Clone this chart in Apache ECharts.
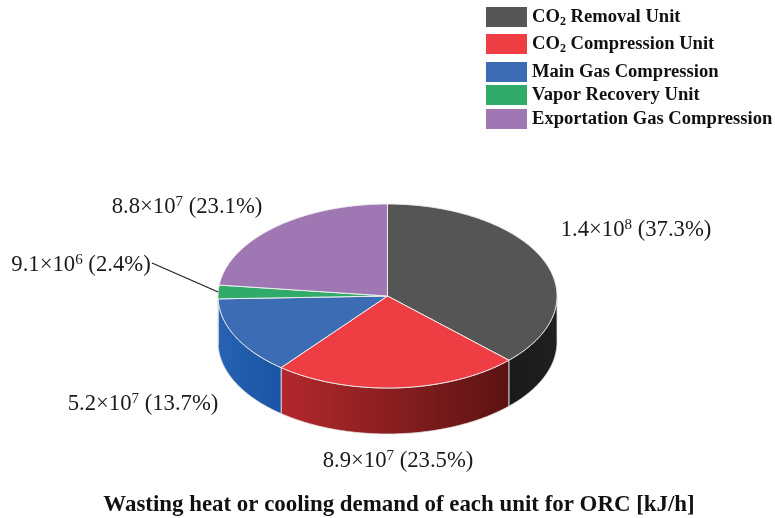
<!DOCTYPE html>
<html>
<head>
<meta charset="utf-8">
<style>html,body{margin:0;padding:0;background:#fff}#chart{width:775px;height:518px}</style>
<script src="https://cdn.jsdelivr.net/npm/echarts@6/dist/echarts.min.js"></script>
</head>
<body>
<div id="chart"></div>
<script>
// Waste heat / cooling demand per unit
const units = ['CO2 Removal Unit', 'CO2 Compression Unit', 'Main Gas Compression', 'Vapor Recovery Unit', 'Exportation Gas Compression'];
const sharePercent = [37.3, 23.5, 13.7, 2.4, 23.1];
const mantissas = ['1.4', '8.9', '5.2', '9.1', '8.8'];
const exponents = ['8', '7', '7', '6', '7'];
const topColors = ['#555555', '#ee3e43', '#3c6cb4', '#30ab6a', '#9e77b3'];
const wallColors = [
  ['#1a1a1a', '#1f1f1f'],
  ['#b3282c', '#5c1313'],
  ['#2763b2', '#1a54a4'],
  ['#1c7a48', '#1c7a48'],
  ['#6f5280', '#6f5280']
];
const legendTops = [7, 34, 62, 85, 109];
const labelCenters = [[636, 230], [398, 461], [143, 404], [81, 265], [187, 207]];
const leaderSlice = 3;

// Pie geometry: an ellipse seen from above, with a cylindrical wall below it
const pie = { cx: 387.5, cy: 296, rx: 169.5, ry: 92, depth: 46 };
const FONT = '"Liberation Serif", "Times New Roman", serif';

function rimPoint(deg, dy) {
  const a = deg * Math.PI / 180;
  return [pie.cx + pie.rx * Math.sin(a), pie.cy - pie.ry * Math.cos(a) + (dy || 0)];
}

function arc(from, to, dy) {
  const pts = [];
  const n = Math.max(2, Math.ceil(Math.abs(to - from) * 2));
  for (let i = 0; i <= n; i++) pts.push(rimPoint(from + (to - from) * i / n, dy));
  return pts;
}

function sliceStart(index) {
  let sum = 0;
  for (let i = 0; i < index; i++) sum += sharePercent[i];
  return sum * 3.6;
}

function renderSlice(index) {
  return function (params, api) {
    const start = sliceStart(index);
    const end = start + api.value(0) * 3.6;
    const children = [];

    // Only the front half of the rim (90°..270°) shows a wall
    const wallFrom = Math.max(start, 90);
    const wallTo = Math.min(end, 270);
    if (wallTo > wallFrom) {
      const upper = arc(wallFrom, wallTo, 0);
      const lower = arc(wallTo, wallFrom, pie.depth);
      children.push({
        type: 'polygon',
        shape: { points: upper.concat(lower) },
        style: {
          fill: {
            type: 'linear', x: 0, y: 0, x2: 1, y2: 0,
            colorStops: [
              { offset: 0, color: wallColors[index][0] },
              { offset: 1, color: wallColors[index][1] }
            ]
          },
          stroke: '#e4e4e4',
          lineWidth: 0.8
        }
      });
    }

    // Top face of the slice
    children.push({
      type: 'polygon',
      shape: { points: [[pie.cx, pie.cy]].concat(arc(start, end, 0)) },
      style: { fill: topColors[index], stroke: '#eeeeee', lineWidth: 1 }
    });

    // Value label
    const c = labelCenters[index];
    children.push({
      type: 'text',
      style: {
        x: c[0], y: c[1], align: 'center', verticalAlign: 'middle',
        text: mantissas[index] + '×10{sup|' + exponents[index] + '} (' + sharePercent[index].toFixed(1) + '%)',
        font: '22.7px ' + FONT,
        fill: '#1a1a1a',
        rich: { sup: { fontSize: 15, fontFamily: FONT, fill: '#1a1a1a', verticalAlign: 'top', lineHeight: 24 } }
      }
    });

    // Leader line for the narrow slice
    if (index === leaderSlice) {
      const p = rimPoint((start + end) / 2);
      children.push({
        type: 'line',
        shape: { x1: c[0] + 71, y1: c[1] - 2, x2: p[0], y2: p[1] },
        style: { stroke: '#222222', lineWidth: 1.2 }
      });
    }
    return { type: 'group', children: children };
  };
}

const chart = echarts.init(document.getElementById('chart'));

chart.setOption({
  animation: false,
  backgroundColor: '#ffffff',
  title: {
    text: 'Wasting heat or cooling demand of each unit for ORC [kJ/h]',
    left: 399, top: 494, textAlign: 'center', padding: 0,
    textStyle: { fontFamily: FONT, fontWeight: 'bold', fontSize: 22.9, color: '#111111' }
  },
  legend: units.map(function (name, i) {
    return {
      data: [name],
      left: 486, top: legendTops[i], padding: 0,
      itemWidth: 41, itemHeight: 20,
      icon: 'rect',
      selectedMode: false,
      formatter: function (n) {
        return n.replace(/^CO2 (.*)$/, '{b|CO}{s|2}{b| $1}').replace(/^(?!\{)(.*)$/, '{b|$1}');
      },
      textStyle: {
        rich: {
          b: { fontFamily: FONT, fontWeight: 'bold', fontSize: 18.6, color: '#111111' },
          s: { fontFamily: FONT, fontWeight: 'bold', fontSize: 12, color: '#111111', verticalAlign: 'bottom', lineHeight: 22 }
        }
      }
    };
  }),
  series: units.map(function (name, i) {
    return {
      type: 'custom',
      name: name,
      coordinateSystem: 'none',
      silent: true,
      itemStyle: { color: topColors[i] },
      renderItem: renderSlice(i),
      data: [[sharePercent[i]]]
    };
  })
});
</script>
</body>
</html>
